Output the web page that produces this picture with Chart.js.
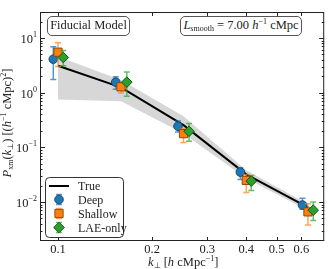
<!DOCTYPE html>
<html>
<head>
<meta charset="utf-8">
<script src="https://cdn.jsdelivr.net/npm/chart.js@4.4.1/dist/chart.umd.min.js"></script>
<style>
  html, body { margin: 0; padding: 0; background: #fff; }
  #wrap { position: relative; width: 331px; height: 269px; font-family: "Liberation Serif", serif; color: #222; }
  #wrap canvas { position: absolute; left: 0; top: 0; }
  .box { position: absolute; box-sizing: border-box; border: 1px solid #555; border-radius: 5px; background: #fff;
         font-size: 12.5px; line-height: 17px; text-align: center; white-space: nowrap; }
  .sub { font-size: 8px; position: relative; top: 2px; }
  .sup { font-size: 8px; position: relative; top: -5px; }
  .lbl { position: absolute; white-space: nowrap; font-size: 12.5px; line-height: 14px; }
</style>
</head>
<body>
<div id="wrap">
  <canvas id="chart" width="331" height="269"></canvas>
  <div class="box" style="left:47px;top:16px;width:83px;height:20px;">Fiducial Model</div>
  <div class="box" style="left:180px;top:16px;width:122px;height:20px;"><i>L</i><span class="sub">smooth</span> = 7.00 <i>h</i><span class="sup">−1</span> cMpc</div>
  <div class="lbl" style="left:148px;top:255px;"><i>k</i><span class="sub">⊥</span> [<i>h</i> cMpc<span class="sup">−1</span>]</div>
  <div class="lbl" style="left:-52px;top:115px;width:120px;text-align:center;transform:rotate(-90deg);">
    <i>P</i><span class="sub">xm</span>(<i>k</i><span class="sub">⊥</span>) [(<i>h</i><span class="sup">−1</span> cMpc)<span class="sup">2</span>]</div>
</div>
<script>
// values
const kDeep = [0.0966, 0.153, 0.242, 0.383, 0.605];
const pDeep = [4.1, 1.56, 0.243, 0.0352, 0.0088];
const pDeepLo = [1.75, 1.15, 0.19, 0.0259, 0.0074];
const pDeepHi = [6.9, 1.95, 0.304, 0.0424, 0.0117];

const kShallow = [0.100, 0.159, 0.252, 0.400, 0.630];
const pShallow = [5.5, 1.28, 0.178, 0.0248, 0.0066];
const pShallowLo = [3.0, 0.99, 0.122, 0.0149, 0.0038];
const pShallowHi = [8.2, 1.51, 0.22, 0.032, 0.0093];

const kLAE = [0.104, 0.166, 0.2625, 0.415, 0.655];
const pLAE = [4.4, 1.56, 0.197, 0.0241, 0.0071];
const pLAELo = [3.1, 0.86, 0.129, 0.0163, 0.0046];
const pLAEHi = [5.9, 2.4, 0.272, 0.0306, 0.0100];

const kTrue = [0.100, 0.159, 0.252, 0.400, 0.630];
const pTrue = [3.1, 1.25, 0.255, 0.032, 0.0080];
const pBandHi = [4.6, 1.7, 0.37, 0.038, 0.0092];
const pBandLo = [0.75, 0.70, 0.18, 0.027, 0.0070];

const xTicks = [0.1, 0.2, 0.3, 0.4, 0.5, 0.6];
const yTicks = [10, 1, 0.1, 0.01];
const yTickExp = ['1', '0', '−1', '−2'];

const blue = '#1f77b4', orange = '#ff7f0e', green = '#2ca02c';

function pts(xs, ys) {
    return xs.map((x, i) => ({ x: x, y: ys[i] }));
}

function marker(ctx, style, x, y, r, fill, edge) {
    ctx.save();
    ctx.fillStyle = fill;
    ctx.strokeStyle = edge;
    ctx.lineWidth = 1;
    ctx.beginPath();
    if (style === 'circle') {
        ctx.arc(x, y, r, 0, Math.PI * 2);
    } else if (style === 'rect') {
        const s = r * Math.SQRT1_2;
        ctx.rect(x - s, y - s, 2 * s, 2 * s);
    } else {
        ctx.moveTo(x - r, y); ctx.lineTo(x, y - r); ctx.lineTo(x + r, y); ctx.lineTo(x, y + r);
        ctx.closePath();
    }
    ctx.fill();
    ctx.stroke();
    ctx.restore();
}

function errBar(ctx, x, yTop, yBot, color) {
    ctx.save();
    ctx.strokeStyle = color;
    ctx.lineWidth = 1.5;
    ctx.beginPath();
    ctx.moveTo(x, yTop); ctx.lineTo(x, yBot);
    ctx.moveTo(x - 3, yTop); ctx.lineTo(x + 3, yTop);
    ctx.moveTo(x - 3, yBot); ctx.lineTo(x + 3, yBot);
    ctx.stroke();
    ctx.restore();
}

// error bars drawn just under each marker set
const errorBars = {
    id: 'errorBars',
    beforeDatasetDraw(chart, args) {
        const ds = chart.data.datasets[args.index];
        if (!ds.errLo) return;
        const xs = chart.scales.x, ys = chart.scales.y;
        ds.data.forEach((p, i) => {
            const px = xs.getPixelForValue(p.x);
            errBar(chart.ctx, px, ys.getPixelForValue(ds.errHi[i]), ys.getPixelForValue(ds.errLo[i]), ds.errColor);
        });
    }
};

// frame, inward ticks, y labels, legend
const decor = {
    id: 'decor',
    afterDraw(chart) {
        const ctx = chart.ctx, a = chart.chartArea;
        const xs = chart.scales.x, ys = chart.scales.y;
        ctx.save();
        ctx.strokeStyle = '#222';
        ctx.lineWidth = 1;
        ctx.strokeRect(a.left + 0.5, a.top + 0.5, a.right - a.left - 1, a.bottom - a.top - 1);
        ctx.beginPath();
        xTicks.forEach(v => {
            const x = Math.round(xs.getPixelForValue(v)) + 0.5;
            ctx.moveTo(x, a.bottom); ctx.lineTo(x, a.bottom - 4);
            ctx.moveTo(x, a.top); ctx.lineTo(x, a.top + 4);
        });
        for (let e = -3; e <= 1; e++) {
            for (let m = 1; m <= 9; m++) {
                const v = m * Math.pow(10, e);
                if (v < ys.min || v > ys.max) continue;
                const y = Math.round(ys.getPixelForValue(v)) + 0.5;
                const len = m === 1 ? 5 : 2.5;
                ctx.moveTo(a.left, y); ctx.lineTo(a.left + len, y);
                ctx.moveTo(a.right, y); ctx.lineTo(a.right - len, y);
            }
        }
        ctx.stroke();

        // y tick labels 10^n
        ctx.fillStyle = '#222';
        ctx.textBaseline = 'alphabetic';
        yTicks.forEach((v, i) => {
            const y = ys.getPixelForValue(v);
            ctx.font = '8px "Liberation Serif"';
            const ew = ctx.measureText(yTickExp[i]).width;
            ctx.textAlign = 'left';
            ctx.fillText(yTickExp[i], 37 - ew, y - 1);
            ctx.font = '12.5px "Liberation Serif"';
            ctx.textAlign = 'right';
            ctx.fillText('10', 37 - ew, y + 5);
        });

        // legend
        const lx = a.left + 5, ly = a.bottom - 64, lw = 78, lh = 60;
        ctx.beginPath();
        ctx.roundRect(lx + 0.5, ly + 0.5, lw, lh, 4);
        ctx.fillStyle = 'rgba(255,255,255,0.9)';
        ctx.fill();
        ctx.strokeStyle = '#333';
        ctx.stroke();
        const hx = lx + 14, tx = lx + 33;
        const rows = [ly + 9, ly + 22.5, ly + 36.5, ly + 50.5];
        ctx.strokeStyle = '#000';
        ctx.lineWidth = 2;
        ctx.beginPath();
        ctx.moveTo(hx - 10, rows[0]); ctx.lineTo(hx + 10, rows[0]);
        ctx.stroke();
        const sets = chart.data.datasets.filter(d => d.errLo);
        sets.forEach((d, i) => {
            const y = rows[i + 1];
            errBar(ctx, hx, y - 5, y + 5, d.errColor);
            marker(ctx, d.pointStyle, hx, y, d.pointRadius, d.backgroundColor, d.borderColor);
        });
        ctx.fillStyle = '#222';
        ctx.font = '12px "Liberation Serif"';
        ctx.textAlign = 'left';
        ctx.textBaseline = 'middle';
        ['True'].concat(sets.map(d => d.label)).forEach((t, i) => ctx.fillText(t, tx, rows[i] + 1));
        ctx.restore();
    }
};

new Chart(document.getElementById('chart'), {
    type: 'line',
    data: {
        datasets: [
            { label: 'bandHi', data: pts(kTrue, pBandHi), borderWidth: 0, pointRadius: 0,
              backgroundColor: '#d7d7d7', fill: 1, order: 10 },
            { label: 'bandLo', data: pts(kTrue, pBandLo), borderWidth: 0, pointRadius: 0, fill: false, order: 11 },
            { label: 'True', data: pts(kTrue, pTrue), borderColor: '#000', borderWidth: 2, pointRadius: 0,
              fill: false, order: 5 },
            { label: 'Deep', data: pts(kDeep, pDeep), showLine: false, pointStyle: 'circle', pointRadius: 4.3,
              backgroundColor: blue, borderColor: '#134a72', borderWidth: 1,
              errLo: pDeepLo, errHi: pDeepHi, errColor: 'rgba(31,119,180,0.75)', order: 3 },
            { label: 'Shallow', data: pts(kShallow, pShallow), showLine: false, pointStyle: 'rect', pointRadius: 5.8,
              backgroundColor: orange, borderColor: '#8f4a08', borderWidth: 1,
              errLo: pShallowLo, errHi: pShallowHi, errColor: 'rgba(255,127,14,0.7)', order: 2 },
            { label: 'LAE-only', data: pts(kLAE, pLAE), showLine: false, pointStyle: 'rectRot', pointRadius: 5.3,
              backgroundColor: green, borderColor: '#17551b', borderWidth: 1,
              errLo: pLAELo, errHi: pLAEHi, errColor: 'rgba(44,160,44,0.7)', order: 1 }
        ]
    },
    options: {
        responsive: false,
        animation: false,
        layout: { padding: { left: 0, right: 6, top: 12, bottom: 0 } },
        plugins: { legend: { display: false }, tooltip: { enabled: false } },
        scales: {
            x: {
                type: 'logarithmic',
                min: 0.0876,
                max: 0.710,
                grid: { display: false, drawTicks: false },
                border: { display: false },
                afterBuildTicks: s => { s.ticks = xTicks.map(v => ({ value: v })); },
                afterFit: s => { s.height = 28; },
                ticks: {
                    padding: 1,
                    color: '#222',
                    font: { family: 'Liberation Serif', size: 12.5 },
                    callback: v => String(v)
                }
            },
            y: {
                type: 'logarithmic',
                min: 0.001936,
                max: 29.9,
                grid: { display: false, drawTicks: false },
                border: { display: false },
                ticks: { display: false },
                afterFit: s => { s.width = 40; }
            }
        }
    },
    plugins: [errorBars, decor]
});
</script>
</body>
</html>
